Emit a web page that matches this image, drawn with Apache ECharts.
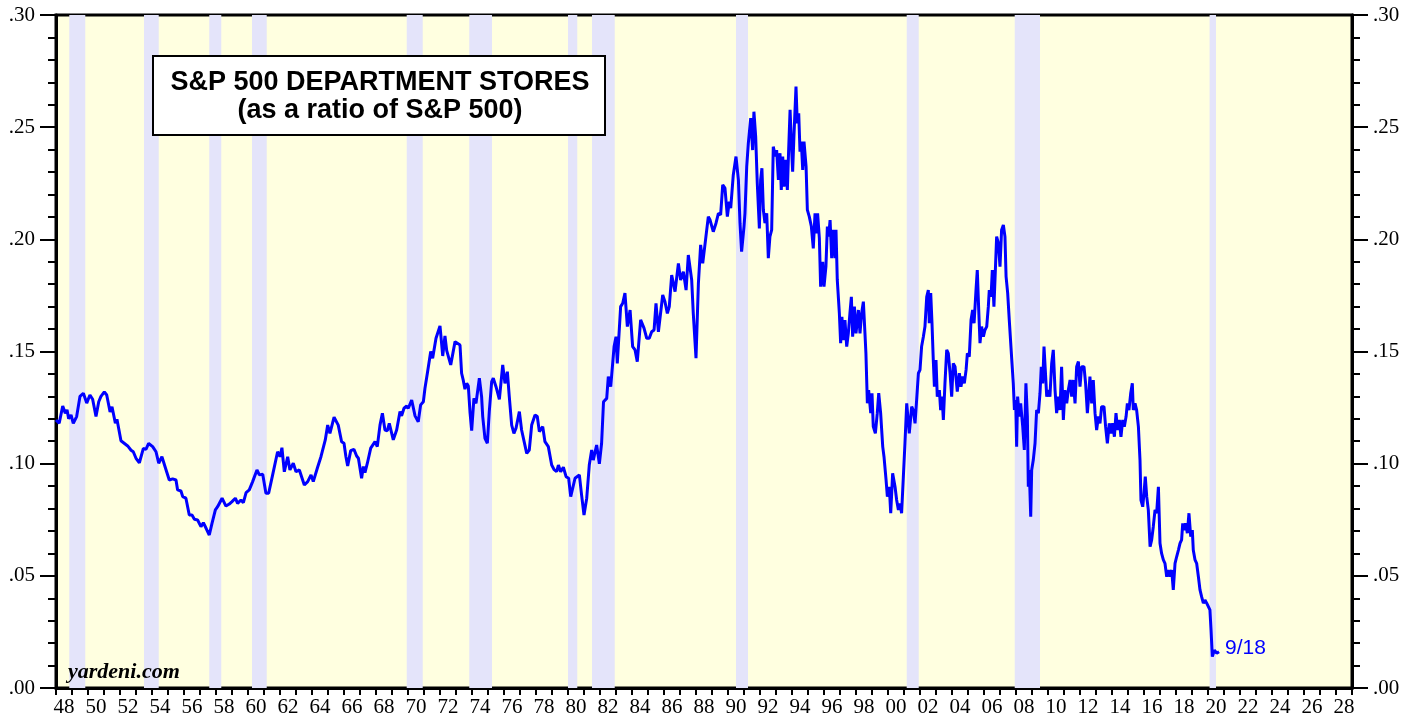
<!DOCTYPE html>
<html><head><meta charset="utf-8">
<script src="https://cdn.jsdelivr.net/npm/echarts@6/dist/echarts.min.js"></script>
<style>html,body{margin:0;padding:0;background:#fff;}#c{width:1417px;height:719px;}</style>
</head><body><div id="c"></div>
<script>
const yearLabels = ['48','49','50','51','52','53','54','55','56','57','58','59','60','61','62','63','64','65','66','67','68','69','70','71','72','73','74','75','76','77','78','79','80','81','82','83','84','85','86','87','88','89','90','91','92','93','94','95','96','97','98','99','00','01','02','03','04','05','06','07','08','09','10','11','12','13','14','15','16','17','18','19','20','21','22','23','24','25','26','27','28'];
const yTickLabels = ['.00','.05','.10','.15','.20','.25','.30'];
const recessions = [[1948.83,1949.83],[1953.5,1954.42],[1957.58,1958.33],[1960.25,1961.17],[1969.92,1970.92],[1973.83,1975.25],[1980.0,1980.58],[1981.5,1982.92],[1990.5,1991.25],[2001.17,2001.92],[2007.92,2009.5],[2020.1,2020.5]];
const lastLabel = '9/18';
const titleLines = ['S&P 500 DEPARTMENT STORES','(as a ratio of S&P 500)'];
const sourceText = 'yardeni.com';

const years = [
1948.00,1948.20,1948.42,1948.58,1948.69,1948.79,1948.94,1949.08,1949.29,1949.50,1949.71,1949.92,1950.12,1950.29,1950.50,1950.67,1950.81,1951.02,1951.17,1951.38,1951.50,1951.71,1951.81,1952.06,1952.48,1952.69,1952.83,1953.00,1953.21,1953.46,1953.62,1953.79,1954.04,1954.25,1954.42,1954.62,1954.88,1955.08,1955.29,1955.50,1955.60,1955.81,1955.92,1956.12,1956.33,1956.50,1956.65,1956.85,1957.06,1957.21,1957.38,1957.58,1957.75,1957.96,1958.10,1958.38,1958.62,1958.83,1959.00,1959.21,1959.35,1959.56,1959.71,1959.88,1960.08,1960.29,1960.56,1960.71,1960.92,1961.12,1961.29,1961.54,1961.85,1962.00,1962.12,1962.27,1962.48,1962.62,1962.83,1963.00,1963.21,1963.52,1963.73,1963.94,1964.08,1964.35,1964.56,1964.83,1964.98,
1965.12,1965.38,1965.64,1965.85,1966.00,1966.12,1966.23,1966.42,1966.62,1966.79,1966.90,1967.10,1967.21,1967.31,1967.46,1967.67,1967.94,1968.08,1968.25,1968.40,1968.56,1968.71,1968.83,1969.08,1969.29,1969.50,1969.60,1969.75,1969.92,1970.02,1970.23,1970.44,1970.64,1970.79,1970.96,1971.06,1971.21,1971.42,1971.54,1971.75,1971.83,1972.00,1972.17,1972.31,1972.42,1972.67,1972.79,1972.94,1973.04,1973.25,1973.35,1973.46,1973.56,1973.67,1973.77,1973.88,1973.98,1974.12,1974.25,1974.46,1974.60,1974.67,1974.81,1974.96,1975.08,1975.23,1975.33,1975.50,1975.71,1975.92,1976.06,1976.21,1976.33,1976.48,1976.62,1976.75,1976.96,1977.10,1977.21,1977.42,1977.58,1977.73,1977.94,1978.08,1978.21,1978.42,1978.56,1978.77,1978.98,1979.12,1979.29,1979.40,1979.54,1979.71,1979.88,1980.04,1980.17,1980.29,1980.44,1980.71,1980.85,1981.00,1981.17,1981.33,1981.48,1981.58,1981.79,1981.96,
1982.10,1982.22,1982.42,1982.52,1982.67,1982.88,1983.00,1983.08,1983.29,1983.42,1983.56,1983.71,1983.88,1984.04,1984.19,1984.33,1984.54,1984.75,1984.92,1985.08,1985.23,1985.38,1985.50,1985.65,1985.75,1985.92,1986.06,1986.21,1986.33,1986.48,1986.58,1986.69,1986.90,1987.04,1987.21,1987.38,1987.52,1987.73,1987.83,1988.00,1988.15,1988.29,1988.42,1988.62,1988.77,1988.88,1989.08,1989.25,1989.40,1989.54,1989.67,1989.81,1989.96,1990.08,1990.17,1990.33,1990.50,1990.65,1990.75,1990.85,1991.00,1991.06,1991.17,1991.27,1991.42,1991.54,1991.62,1991.73,1991.83,1991.96,1992.04,1992.12,1992.21,1992.31,1992.42,1992.52,1992.62,1992.73,1992.83,1992.96,1993.04,1993.15,1993.25,1993.33,1993.42,1993.50,1993.60,1993.71,1993.79,1993.88,1993.96,1994.04,1994.12,1994.25,1994.33,1994.42,1994.50,1994.58,1994.67,1994.75,1994.88,1994.96,1995.08,1995.21,1995.33,1995.44,1995.54,1995.60,1995.71,1995.79,1995.92,1996.00,1996.12,1996.21,1996.29,1996.38,1996.48,1996.58,1996.69,1996.75,1996.83,1996.96,1997.04,1997.12,1997.21,1997.31,1997.42,1997.52,1997.62,1997.71,1997.79,1997.90,1998.00,1998.15,1998.25,1998.35,1998.46,1998.56,1998.62,1998.71,1998.79,1998.92,1999.00,1999.08,1999.21,1999.33,1999.42,1999.54,1999.67,1999.75,1999.88,1999.96,
2000.08,2000.17,2000.29,2000.44,2000.54,2000.65,2000.75,2000.85,2000.96,2001.06,2001.17,2001.33,2001.48,2001.58,2001.69,2001.79,2001.90,2002.00,2002.10,2002.21,2002.31,2002.42,2002.52,2002.58,2002.67,2002.75,2002.83,2002.90,2003.00,2003.08,2003.21,2003.29,2003.38,2003.46,2003.56,2003.67,2003.77,2003.88,2003.98,2004.08,2004.19,2004.33,2004.46,2004.56,2004.67,2004.77,2004.88,2004.96,2005.08,2005.19,2005.29,2005.38,2005.50,2005.58,2005.67,2005.75,2005.85,2005.96,2006.06,2006.17,2006.27,2006.33,2006.44,2006.52,2006.62,2006.71,2006.79,2006.90,2007.00,2007.10,2007.21,2007.31,2007.38,2007.48,2007.58,2007.67,2007.75,2007.83,2007.90,2007.98,2008.04,2008.10,2008.21,2008.29,2008.42,2008.52,2008.62,2008.71,2008.77,2008.83,2008.92,2008.98,2009.08,2009.19,2009.29,2009.40,2009.50,2009.58,2009.67,2009.75,2009.83,2009.92,
2010.02,2010.12,2010.23,2010.33,2010.44,2010.54,2010.65,2010.75,2010.85,2010.96,2011.06,2011.17,2011.27,2011.38,2011.48,2011.58,2011.69,2011.79,2011.90,2012.00,2012.10,2012.25,2012.35,2012.46,2012.54,2012.62,2012.73,2012.83,2012.94,2013.04,2013.15,2013.25,2013.35,2013.50,2013.60,2013.71,2013.83,2013.94,2014.04,2014.15,2014.25,2014.35,2014.46,2014.56,2014.67,2014.77,2014.88,2014.96,2015.06,2015.17,2015.27,2015.33,2015.44,2015.54,2015.65,2015.75,2015.81,2015.92,2016.00,2016.08,2016.17,2016.27,2016.38,2016.48,2016.58,2016.69,2016.79,2016.90,2017.00,2017.10,2017.21,2017.31,2017.42,2017.52,2017.62,2017.73,2017.83,2017.94,2018.04,2018.15,2018.25,2018.35,2018.42,2018.50,2018.60,2018.71,2018.81,2018.92,2019.02,2019.08,2019.19,2019.29,2019.40,2019.50,2019.60,2019.71,2019.81,2019.92,2020.02,2020.12,2020.19,2020.27,2020.40,2020.54,2020.69
];
const ratio = [
.1195,.1180,.1257,.1225,.1240,.1200,.1217,.1180,.1210,.1300,.1314,.1270,.1306,.1287,.1210,.1276,.1300,.1320,.1306,.1230,.1254,.1180,.1198,.1102,.1079,.1060,.1053,.1024,.1004,.1068,.1064,.1090,.1076,.1053,.1002,.1031,.0972,.0927,.0932,.0927,.0883,.0878,.0853,.0846,.0771,.0771,.0752,.0749,.0719,.0737,.0712,.0682,.0734,.0794,.0808,.0846,.0811,.0820,.0831,.0846,.0823,.0838,.0826,.0871,.0883,.0920,.0972,.0950,.0953,.0868,.0868,.0950,.1053,.1031,.1071,.0964,.1031,.0972,.1002,.0964,.0972,.0905,.0920,.0950,.0920,.0984,.1031,.1106,.1172,
.1135,.1207,.1172,.1098,.1091,.1031,.0990,.1058,.1064,.1034,.1024,.0935,.0987,.0960,.1002,.1069,.1098,.1076,.1172,.1225,.1150,.1147,.1180,.1106,.1150,.1232,.1213,.1247,.1257,.1247,.1284,.1213,.1187,.1262,.1276,.1336,.1403,.1500,.1470,.1559,.1566,.1614,.1480,.1569,.1504,.1440,.1440,.1544,.1551,.1529,.1403,.1370,.1332,.1358,.1346,.1225,.1147,.1291,.1269,.1381,.1299,.1210,.1113,.1091,.1232,.1366,.1381,.1343,.1287,.1440,.1358,.1410,.1299,.1172,.1135,.1158,.1232,.1150,.1143,.1046,.1061,.1172,.1217,.1210,.1143,.1165,.1098,.1076,.0994,.0975,.0964,.0994,.0964,.0984,.0942,.0935,.0853,.0853,.0935,.0950,.0860,.0771,.0846,.0994,.1061,.1016,.1083,.0999,
.1091,.1276,.1291,.1388,.1343,.1522,.1566,.1447,.1700,.1715,.1760,.1611,.1685,.1522,.1507,.1455,.1641,.1604,.1559,.1559,.1588,.1596,.1715,.1588,.1596,.1752,.1722,.1670,.1700,.1841,.1849,.1767,.1893,.1819,.1856,.1774,.1930,.1819,.1670,.1470,.1804,.1975,.1893,.2012,.2101,.2086,.2034,.2072,.2116,.2109,.2243,.2228,.2101,.2168,.2139,.2287,.2369,.2265,.2072,.1945,.2057,.2116,.2324,.2428,.2540,.2398,.2569,.2458,.2250,.2049,.2265,.2317,.2131,.2072,.2116,.1916,.2012,.2042,.2413,.2369,.2398,.2265,.2384,.2220,.2369,.2235,.2354,.2220,.2398,.2577,.2428,.2302,.2458,.2681,.2517,.2562,.2391,.2436,.2309,.2436,.2324,.2131,.2101,.2057,.1960,.2116,.2027,.2116,.2005,.1789,.1900,.1789,.1878,.2057,.2012,.2086,.1916,.2042,.1916,.2042,.1819,.1670,.1537,.1655,.1551,.1640,.1522,.1581,.1670,.1744,.1566,.1700,.1581,.1685,.1581,.1670,.1722,.1581,.1492,.1269,.1328,.1225,.1314,.1165,.1135,.1225,.1314,.1225,.1076,.1031,.0927,.0853,
.0897,.0779,.0957,.0897,.0838,.0794,.0823,.0779,.0942,.1091,.1269,.1135,.1254,.1239,.1180,.1284,.1403,.1418,.1522,.1566,.1611,.1744,.1774,.1626,.1760,.1626,.1462,.1343,.1462,.1299,.1328,.1239,.1299,.1195,.1358,.1507,.1492,.1403,.1299,.1447,.1432,.1321,.1403,.1343,.1388,.1358,.1418,.1492,.1477,.1640,.1685,.1626,.1774,.1863,.1685,.1537,.1611,.1566,.1596,.1611,.1700,.1774,.1744,.1863,.1700,.1863,.2012,.1982,.1878,.2042,.2064,.2012,.1834,.1760,.1640,.1537,.1447,.1358,.1239,.1284,.1076,.1299,.1210,.1269,.1165,.1061,.1358,.1210,.0897,.0972,.0764,.0972,.1016,.1091,.1239,.1225,.1314,.1432,.1358,.1522,.1418,.1299,
.1328,.1299,.1447,.1507,.1328,.1225,.1299,.1239,.1432,.1195,.1328,.1269,.1328,.1373,.1299,.1373,.1269,.1432,.1455,.1343,.1432,.1432,.1358,.1225,.1299,.1388,.1269,.1373,.1225,.1150,.1210,.1180,.1254,.1254,.1165,.1091,.1180,.1135,.1180,.1120,.1225,.1150,.1195,.1120,.1195,.1165,.1210,.1269,.1239,.1314,.1358,.1239,.1269,.1239,.1165,.1016,.0838,.0808,.0868,.0942,.0853,.0794,.0630,.0660,.0719,.0794,.0779,.0897,.0645,.0600,.0571,.0556,.0496,.0526,.0496,.0526,.0437,.0556,.0585,.0615,.0645,.0660,.0734,.0704,.0734,.0690,.0779,.0675,.0704,.0615,.0571,.0556,.0496,.0437,.0407,.0378,.0392,.0378,.0385,.0348,.0259,.0140,.0169,.0155,.0162
];

const chart = echarts.init(document.getElementById('c'), null, {renderer:'canvas'});
function yAxisCfg(pos){
  return {
    type:'value', min:0, max:0.3, interval:0.05, position:pos,
    axisLine:{show:true, onZero:false, lineStyle:{color:'#000', width:3}},
    axisTick:{show:true, length:16, lineStyle:{color:'#000', width:2}},
    minorTick:{show:true, splitNumber:5, length:8, lineStyle:{color:'#000', width:2}},
    axisLabel:{formatter:(v)=>yTickLabels[Math.round(v/0.05)], color:'#000', fontFamily:'Liberation Serif', fontSize:21, margin:21},
    splitLine:{show:false}, minorSplitLine:{show:false}
  };
}
const option = {
  animation:false,
  grid:{left:56, right:65, top:15, bottom:31, show:true, backgroundColor:'#FFFFE0', borderColor:'#000', borderWidth:3, containLabel:false},
  xAxis:[
    {type:'category', data:yearLabels, boundaryGap:true, position:'bottom',
     axisLine:{show:true, onZero:false, lineStyle:{color:'#000', width:3}},
     axisTick:{show:true, interval:0, length:7, lineStyle:{color:'#000', width:2}},
     axisLabel:{interval:1, color:'#000', fontFamily:'Liberation Serif', fontSize:21, margin:9},
     splitLine:{show:false}},
    {type:'value', min:1948, max:2029, show:false, splitLine:{show:false}}
  ],
  yAxis:[yAxisCfg('left'), yAxisCfg('right')],
  series:[
    {type:'line', xAxisIndex:1, yAxisIndex:0, data:[], z:1, silent:true,
     markArea:{silent:true, itemStyle:{color:'#E4E4FA'}, data:recessions.map(r=>[{xAxis:r[0]},{xAxis:r[1]}])}},
    {type:'line', xAxisIndex:1, yAxisIndex:0, data:years.map((y,i)=>[y, ratio[i]]), z:5,
     symbol:'none', showSymbol:false, lineStyle:{color:'#0000FF', width:3}, 
     endLabel:{show:true, formatter:lastLabel, color:'#0000FF', fontFamily:'Liberation Sans', fontSize:21, distance:6, offset:[0,-3]}}
  ],
  graphic:[
    {type:'rect', z:100, shape:{x:153, y:56, width:452, height:79}, style:{fill:'#fff', stroke:'#000', lineWidth:2}},
    {type:'text', z:101, x:380, y:83, style:{text:titleLines[0], font:'bold 27px "Liberation Sans"', fill:'#000', align:'center', verticalAlign:'middle', textAlign:'center', textVerticalAlign:'middle'}},
    {type:'text', z:101, x:380, y:111, style:{text:titleLines[1], font:'bold 27px "Liberation Sans"', fill:'#000', align:'center', verticalAlign:'middle', textAlign:'center', textVerticalAlign:'middle'}},
    {type:'text', z:101, x:68, y:672, style:{text:sourceText, font:'italic bold 22px "Liberation Serif"', fill:'#000', align:'left', verticalAlign:'middle', textAlign:'left', textVerticalAlign:'middle'}}
  ]
};
chart.setOption(option);
</script></body></html>
